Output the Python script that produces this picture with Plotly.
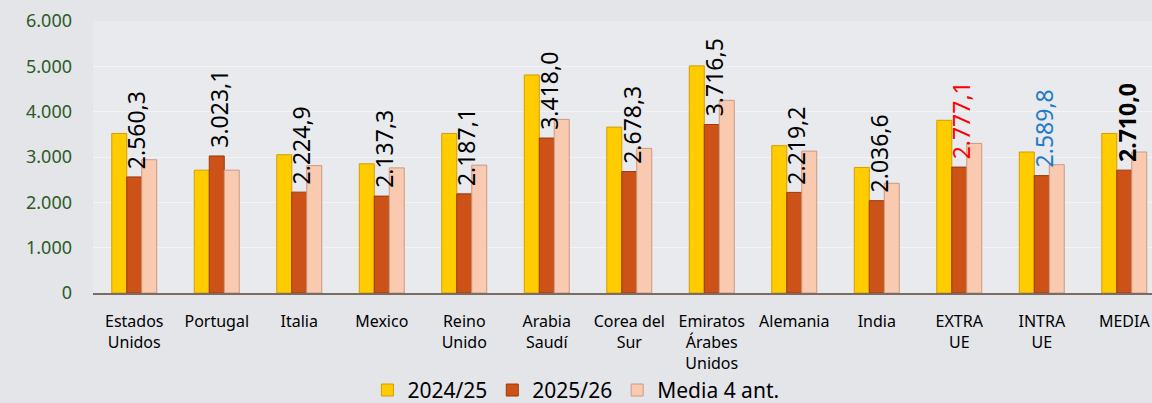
import plotly.graph_objects as go

categories = ["Estados<br>Unidos", "Portugal", "Italia", "Mexico", "Reino<br>Unido",
              "Arabia<br>Saudí", "Corea del<br>Sur", "Emiratos<br>Árabes<br>Unidos",
              "Alemania", "India", "EXTRA<br>UE", "INTRA<br>UE", "MEDIA"]
v_2425 = [3520, 2710, 3050, 2850, 3520, 4810, 3660, 5010, 3250, 2770, 3810, 3110, 3520]
v_2526 = [2560.3, 3023.1, 2224.9, 2137.3, 2187.1, 3418.0, 2678.3, 3716.5, 2219.2, 2036.6, 2777.1, 2589.8, 2710.0]
v_media = [2940, 2710, 2810, 2760, 2820, 3830, 3190, 4250, 3130, 2420, 3300, 2830, 3110]
label_colors = ["#000000"] * 10 + ["#ff0000", "#1f7bc6", "#000000"]
label_bold = [False] * 12 + [True]
y_ticks = [0, 1000, 2000, 3000, 4000, 5000, 6000]

FONT = "Noto Sans, DejaVu Sans, sans-serif"

def fmt(v):
    s = f"{v:,.1f}"
    return s.replace(",", "X").replace(".", ",").replace("X", ".")

fig = go.Figure()
fig.add_trace(go.Bar(x=categories, y=v_2425, name="2024/25",
                     marker=dict(color="#ffcc00", line=dict(color="#d29e00", width=1))))
fig.add_trace(go.Bar(x=categories, y=v_2526, name="2025/26",
                     marker=dict(color="#cc5218", line=dict(color="#9c3a0c", width=1))))
fig.add_trace(go.Bar(x=categories, y=v_media, name="Media 4 ant.",
                     marker=dict(color="#f9c9b0", line=dict(color="#c99a84", width=1))))

for c, v, col, b in zip(categories, v_2526, label_colors, label_bold):
    t = fmt(v)
    if b:
        t = f"<b>{t}</b>"
    fig.add_annotation(x=c, y=v, text=t, textangle=-90, showarrow=False,
                       xanchor="center", yanchor="bottom", yshift=6, xshift=2,
                       font=dict(family=FONT, size=23, color=col))

fig.update_layout(
    width=1152, height=403,
    margin=dict(l=93, r=0, t=21, b=110, autoexpand=False),
    paper_bgcolor="#e3e5e9",
    plot_bgcolor="#e8eaed",
    separators=",.",
    barmode="group",
    bargap=0.455,
    bargroupgap=0,
    showlegend=True,
    legend=dict(orientation="h", x=0.456, xanchor="center", y=-0.358, yanchor="middle",
                font=dict(family=FONT, size=21, color="#000000"),
                bgcolor="rgba(0,0,0,0)", itemwidth=30),
    font=dict(family=FONT),
)
fig.update_xaxes(range=[-0.5, 12.336], showgrid=False, showline=True,
                 linecolor="#7b6b62", linewidth=2,
                 tickfont=dict(family=FONT, size=16, color="#000000"),
                 ticks="", ticklabelstandoff=13, tickangle=0, automargin=False)
fig.update_yaxes(range=[0, 6000], tickvals=y_ticks, tickformat=",.0f",
                 showgrid=True, gridcolor="#f3f3f3", gridwidth=1,
                 zeroline=False, showline=False,
                 tickfont=dict(family=FONT, size=18, color="#2d5a27"),
                 ticklabelstandoff=20, automargin=False)

fig.write_html("out.html", config={"displayModeBar": False},
               post_script="document.body.style.margin='0px';document.body.style.overflow='hidden';")
